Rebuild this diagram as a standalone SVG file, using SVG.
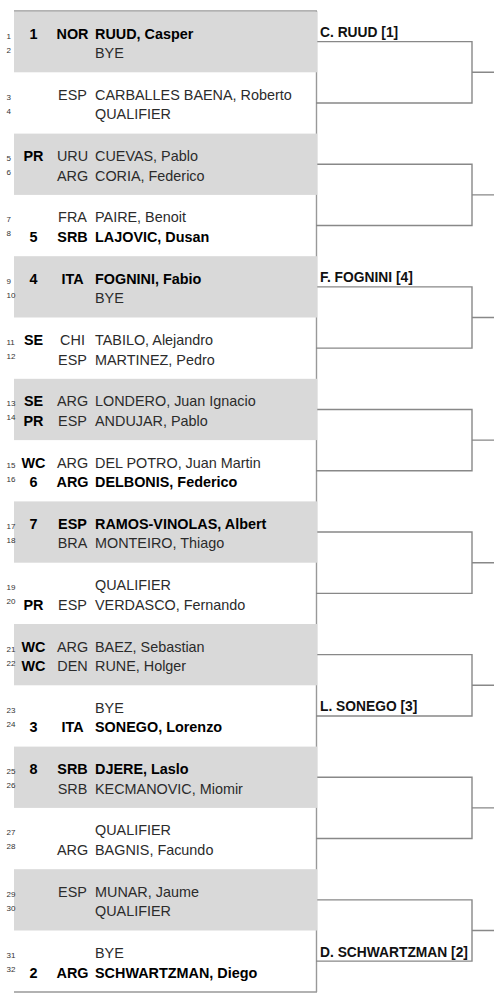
<svg xmlns="http://www.w3.org/2000/svg" width="494" height="995" viewBox="0 0 494 995">
<style>
text{font-family:"Liberation Sans",Arial,sans-serif;font-size:14.4px;fill:#2b2b2b}
.b{font-weight:bold;fill:#000}
.c{text-anchor:middle}
.s{font-size:8px;fill:#333}
.w{font-size:13.8px;font-weight:bold;fill:#111}
.g{fill:#d9d9d9}
.ln{stroke:#888;stroke-width:1.4;fill:none}
.bd{stroke:#999;stroke-width:1.4;fill:none}
</style>
<rect width="494" height="995" fill="#fff"/>
<g id="frame">
<line class="bd" x1="316.5" y1="11" x2="316.5" y2="992"/>
<line class="bd" x1="14" y1="11" x2="317" y2="11"/>
<line class="bd" x1="14" y1="992" x2="317" y2="992"/>
</g>
<g id="connectors">
<path class="ln" d="M316 41.65H472V102.95H316M472 72.3H494"/>
<path class="ln" d="M316 164.25H472V225.55H316M472 194.9H494"/>
<path class="ln" d="M316 286.85H472V348.15H316M472 317.5H494"/>
<path class="ln" d="M316 409.45H472V470.75H316M472 440.1H494"/>
<path class="ln" d="M316 532.05H472V593.35H316M472 562.7H494"/>
<path class="ln" d="M316 654.65H472V715.95H316M472 685.3H494"/>
<path class="ln" d="M316 777.25H472V838.55H316M472 807.9H494"/>
<path class="ln" d="M316 899.85H472V961.15H316M472 930.5H494"/>
</g>
<g id="m1">
<rect class="g" x="14" y="11.7" width="303.3" height="60.6"/>
<text class="s" x="6.5" y="38.5">1</text><text class="s" x="6.5" y="52.5">2</text>
<text class="b c" x="33.5" y="38.5">1</text><text class="b c" x="72.5" y="38.5">NOR</text><text class="b" x="95" y="38.5">RUUD, Casper</text>
<text x="95" y="58">BYE</text>
</g>
<g id="m2">
<text class="s" x="6.5" y="99.8">3</text><text class="s" x="6.5" y="113.8">4</text>
<text class="c" x="72.5" y="99.8">ESP</text><text x="95" y="99.8">CARBALLES BAENA, Roberto</text>
<text x="95" y="119.3">QUALIFIER</text>
</g>
<g id="m3">
<rect class="g" x="14" y="133.6" width="303.3" height="61.3"/>
<text class="s" x="6.5" y="161.1">5</text><text class="s" x="6.5" y="175.1">6</text>
<text class="b c" x="33.5" y="161.1">PR</text><text class="c" x="72.5" y="161.1">URU</text><text x="95" y="161.1">CUEVAS, Pablo</text>
<text class="c" x="72.5" y="180.6">ARG</text><text x="95" y="180.6">CORIA, Federico</text>
</g>
<g id="m4">
<text class="s" x="6.5" y="222.4">7</text><text class="s" x="6.5" y="236.4">8</text>
<text class="c" x="72.5" y="222.4">FRA</text><text x="95" y="222.4">PAIRE, Benoit</text>
<text class="b c" x="33.5" y="241.9">5</text><text class="b c" x="72.5" y="241.9">SRB</text><text class="b" x="95" y="241.9">LAJOVIC, Dusan</text>
</g>
<g id="m5">
<rect class="g" x="14" y="256.2" width="303.3" height="61.3"/>
<text class="s" x="6.5" y="283.7">9</text><text class="s" x="6.5" y="297.7">10</text>
<text class="b c" x="33.5" y="283.7">4</text><text class="b c" x="72.5" y="283.7">ITA</text><text class="b" x="95" y="283.7">FOGNINI, Fabio</text>
<text x="95" y="303.2">BYE</text>
</g>
<g id="m6">
<text class="s" x="6.5" y="345">11</text><text class="s" x="6.5" y="359">12</text>
<text class="b c" x="33.5" y="345">SE</text><text class="c" x="72.5" y="345">CHI</text><text x="95" y="345">TABILO, Alejandro</text>
<text class="c" x="72.5" y="364.5">ESP</text><text x="95" y="364.5">MARTINEZ, Pedro</text>
</g>
<g id="m7">
<rect class="g" x="14" y="378.8" width="303.3" height="61.3"/>
<text class="s" x="6.5" y="406.3">13</text><text class="s" x="6.5" y="420.3">14</text>
<text class="b c" x="33.5" y="406.3">SE</text><text class="c" x="72.5" y="406.3">ARG</text><text x="95" y="406.3">LONDERO, Juan Ignacio</text>
<text class="b c" x="33.5" y="425.8">PR</text><text class="c" x="72.5" y="425.8">ESP</text><text x="95" y="425.8">ANDUJAR, Pablo</text>
</g>
<g id="m8">
<text class="s" x="6.5" y="467.6">15</text><text class="s" x="6.5" y="481.6">16</text>
<text class="b c" x="33.5" y="467.6">WC</text><text class="c" x="72.5" y="467.6">ARG</text><text x="95" y="467.6">DEL POTRO, Juan Martin</text>
<text class="b c" x="33.5" y="487.1">6</text><text class="b c" x="72.5" y="487.1">ARG</text><text class="b" x="95" y="487.1">DELBONIS, Federico</text>
</g>
<g id="m9">
<rect class="g" x="14" y="501.4" width="303.3" height="61.3"/>
<text class="s" x="6.5" y="528.9">17</text><text class="s" x="6.5" y="542.9">18</text>
<text class="b c" x="33.5" y="528.9">7</text><text class="b c" x="72.5" y="528.9">ESP</text><text class="b" x="95" y="528.9">RAMOS-VINOLAS, Albert</text>
<text class="c" x="72.5" y="548.4">BRA</text><text x="95" y="548.4">MONTEIRO, Thiago</text>
</g>
<g id="m10">
<text class="s" x="6.5" y="590.2">19</text><text class="s" x="6.5" y="604.2">20</text>
<text x="95" y="590.2">QUALIFIER</text>
<text class="b c" x="33.5" y="609.7">PR</text><text class="c" x="72.5" y="609.7">ESP</text><text x="95" y="609.7">VERDASCO, Fernando</text>
</g>
<g id="m11">
<rect class="g" x="14" y="624" width="303.3" height="61.3"/>
<text class="s" x="6.5" y="651.5">21</text><text class="s" x="6.5" y="665.5">22</text>
<text class="b c" x="33.5" y="651.5">WC</text><text class="c" x="72.5" y="651.5">ARG</text><text x="95" y="651.5">BAEZ, Sebastian</text>
<text class="b c" x="33.5" y="671">WC</text><text class="c" x="72.5" y="671">DEN</text><text x="95" y="671">RUNE, Holger</text>
</g>
<g id="m12">
<text class="s" x="6.5" y="712.8">23</text><text class="s" x="6.5" y="726.8">24</text>
<text x="95" y="712.8">BYE</text>
<text class="b c" x="33.5" y="732.3">3</text><text class="b c" x="72.5" y="732.3">ITA</text><text class="b" x="95" y="732.3">SONEGO, Lorenzo</text>
</g>
<g id="m13">
<rect class="g" x="14" y="746.6" width="303.3" height="61.3"/>
<text class="s" x="6.5" y="774.1">25</text><text class="s" x="6.5" y="788.1">26</text>
<text class="b c" x="33.5" y="774.1">8</text><text class="b c" x="72.5" y="774.1">SRB</text><text class="b" x="95" y="774.1">DJERE, Laslo</text>
<text class="c" x="72.5" y="793.6">SRB</text><text x="95" y="793.6">KECMANOVIC, Miomir</text>
</g>
<g id="m14">
<text class="s" x="6.5" y="835.4">27</text><text class="s" x="6.5" y="849.4">28</text>
<text x="95" y="835.4">QUALIFIER</text>
<text class="c" x="72.5" y="854.9">ARG</text><text x="95" y="854.9">BAGNIS, Facundo</text>
</g>
<g id="m15">
<rect class="g" x="14" y="869.2" width="303.3" height="61.3"/>
<text class="s" x="6.5" y="896.7">29</text><text class="s" x="6.5" y="910.7">30</text>
<text class="c" x="72.5" y="896.7">ESP</text><text x="95" y="896.7">MUNAR, Jaume</text>
<text x="95" y="916.2">QUALIFIER</text>
</g>
<g id="m16">
<text class="s" x="6.5" y="958">31</text><text class="s" x="6.5" y="972">32</text>
<text x="95" y="958">BYE</text>
<text class="b c" x="33.5" y="977.5">2</text><text class="b c" x="72.5" y="977.5">ARG</text><text class="b" x="95" y="977.5">SCHWARTZMAN, Diego</text>
</g>
<g id="r2-1"><text class="w" x="320" y="37">C. RUUD [1]</text></g>
<g id="r2-3"><text class="w" x="320" y="282.2">F. FOGNINI [4]</text></g>
<g id="r2-6"><text class="w" x="320" y="711.4">L. SONEGO [3]</text></g>
<g id="r2-8"><text class="w" x="320" y="956.6">D. SCHWARTZMAN [2]</text></g>
</svg>
